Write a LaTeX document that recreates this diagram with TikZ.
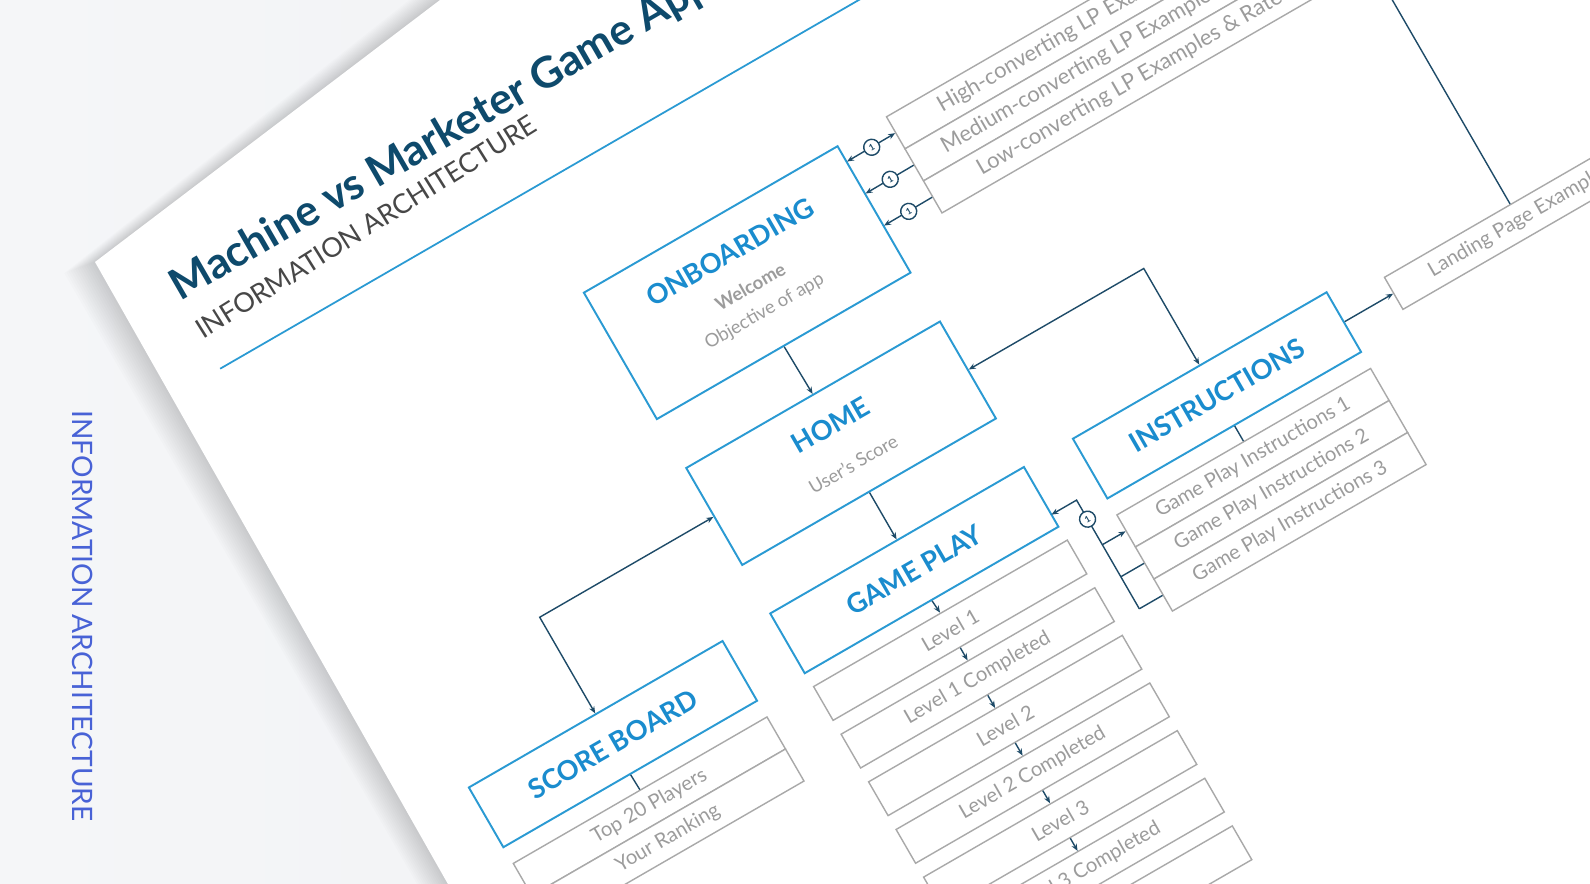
\documentclass[tikz,border=0pt]{standalone}
\usepackage{fontspec}
\setmainfont{Lato}
\usetikzlibrary{arrows.meta}
\definecolor{bgl}{HTML}{F5F6F8}
\definecolor{bgr}{HTML}{ECEEF1}
\definecolor{boxblue}{HTML}{2A9AD3}
\definecolor{headblue}{HTML}{1A8CCE}
\definecolor{titleblue}{HTML}{0E4A6C}
\definecolor{navy}{HTML}{1E4B68}
\definecolor{itemgray}{HTML}{A9A9A9}
\definecolor{textgray}{HTML}{9C9C9C}
\definecolor{sideblue}{HTML}{4862D6}
\tikzset{
  bluebox/.style={draw=boxblue, line width=1.1pt, fill=white, inner sep=0pt, minimum width=5.86cm},
  graybox/.style={draw=itemgray, line width=0.8pt, fill=white, inner sep=0pt, minimum width=5.86cm, minimum height=0.74cm, text=textgray, font=\fontsize{11.5}{12}\selectfont},
  levelbox/.style={graybox, minimum height=0.78cm},
  head/.style={text=headblue, font=\bfseries\fontsize{15.5}{17}\selectfont, inner sep=0pt},
  subt/.style={text=textgray, font=\fontsize{10.5}{12}\selectfont, inner sep=0pt},
  conn/.style={draw=navy, line width=0.8pt},
  tip/.style={-{Stealth[length=4pt,width=3.2pt]}},
  badge/.style={circle, draw=navy, fill=white, line width=0.8pt, minimum size=0.32cm, inner sep=0pt, text=navy, font=\bfseries\fontsize{5}{5}\selectfont},
}
\begin{document}
\begin{tikzpicture}[x=0.02cm,y=-0.02cm]
\useasboundingbox (0,0) rectangle (1590,884);
\begin{scope}
\clip (0,0) rectangle (1590,884);
\shade[left color=bgl, right color=bgr] (0,0) rectangle (1590,884);
% sheet shadow
\foreach \i in {1,...,14}{
  \fill[black, opacity=0.012] ({95-2.2*\i},{262+0.8*\i}) -- ({440-2.2*\i},0) -- (1600,0) -- (1600,900) -- ({457-2.2*\i},900) -- cycle;
}
\fill[white] (95,262) -- (440,0) -- (1600,0) -- (1600,900) -- (457,900) -- cycle;
% side label
\node[rotate=-90, text=sideblue, font=\fontsize{16}{18}\selectfont, inner sep=0pt] (side) at (83,616) {INFORMATION ARCHITECTURE};
% title
\node[rotate=30, anchor=base west, text=titleblue, font=\bfseries\fontsize{24.5}{28}\selectfont, inner sep=0pt] (title) at (180,302) {Machine vs Marketer Game Application};
\node[rotate=32, anchor=base west, text=black!72, font=\fontsize{15.4}{17}\selectfont, inner sep=0pt] (subtitle) at (203,340) {INFORMATION ARCHITECTURE};

\begin{scope}[shift={(95,262)}, rotate=30, transform shape]
\coordinate (l0) at (55,155);
\coordinate (l1) at (950,155);
\draw[boxblue, line width=1pt] (l0) -- (l1);

% main boxes
\node[bluebox, minimum height=2.92cm] (onb) at (554.5,344) {};
\node[head] at (555,309) {ONBOARDING};
\node[subt, font=\bfseries\fontsize{10.5}{12}\selectfont] at (555,349) {Welcome};
\node[subt] at (555,378) {Objective of app};

\node[bluebox, minimum height=2.24cm] (home) at (555.5,530) {};
\node[head] at (555.5,509) {HOME};
\node[subt] at (555.5,554) {User's Score};

\node[bluebox, minimum height=1.38cm] (gp) at (555.5,676.5) {};
\node[head] at (555.5,676.5) {GAME PLAY};

\node[bluebox, minimum height=1.38cm] (sb) at (207.5,676.5) {};
\node[head] at (207.5,676.5) {SCORE BOARD};

\node[bluebox, minimum height=1.38cm] (ins) at (905,676.5) {};
\node[head] at (905,676.5) {INSTRUCTIONS};

% score board items
\node[graybox] (sb1) at (208,748.5) {Top 20 Players};
\node[graybox] (sb2) at (208,785.5) {Your Ranking};

% instruction items
\node[graybox] (in1) at (905,748.5) {Game Play Instructions 1};
\node[graybox] (in2) at (905,785.5) {Game Play Instructions 2};
\node[graybox] (in3) at (905,822.5) {Game Play Instructions 3};

% levels
\node[levelbox] (lv1) at (556.5,746.5) {Level 1};
\node[levelbox] (lv2) at (556.5,801.5) {Level 1 Completed};
\node[levelbox] (lv3) at (556.5,856.5) {Level 2};
\node[levelbox] (lv4) at (556.5,911.5) {Level 2 Completed};
\node[levelbox] (lv5) at (556.5,966.5) {Level 3};
\node[levelbox] (lv6) at (556.5,1021.5) {Level 3 Completed};
\node[levelbox] (lv7) at (556.5,1076.5) {Final Level};

% landing page boxes
\node[graybox, minimum width=10.4cm, font=\fontsize{12.5}{13}\selectfont] (lp1) at (1018,288.5) {High-converting LP Examples \& Rate Range};
\node[graybox, minimum width=10.4cm, font=\fontsize{12.5}{13}\selectfont] (lp2) at (1018,325.5) {Medium-converting LP Examples \& Rate Range};
\node[graybox, minimum width=10.4cm, font=\fontsize{12.5}{13}\selectfont] (lp3) at (1018,362.5) {Low-converting LP Examples \& Rate Range};
\node[graybox, minimum width=5.82cm] (lp) at (1254.5,676.5) {Landing Page Examples};

% connectors
\draw[conn, tip] (onb.south) -- (home.north);
\draw[conn, tip] (home.south) -- (gp.north);
\draw[conn, tip] (gp.south) -- (lv1.north);
\draw[conn, tip] (lv1.south) -- (lv2.north);
\draw[conn, tip] (lv2.south) -- (lv3.north);
\draw[conn, tip] (lv3.south) -- (lv4.north);
\draw[conn, tip] (lv4.south) -- (lv5.north);
\draw[conn, tip] (lv5.south) -- (lv6.north);
\draw[conn, tip] (lv6.south) -- (lv7.north);

\coordinate (e1) at (207.5,530);
\draw[conn, {Stealth[length=4pt,width=3.2pt]}-{Stealth[length=4pt,width=3.2pt]}] (sb.north) -- (e1) -- (home.west);
\coordinate (e2) at (905,530);
\draw[conn, {Stealth[length=4pt,width=3.2pt]}-{Stealth[length=4pt,width=3.2pt]}] (ins.north) -- (e2) -- (home.east);

\draw[conn] (sb.south) -- (sb1.north);
\draw[conn] (ins.south) -- (in1.north);

\draw[conn, tip] (ins.east) -- (lp.west);
\coordinate (e3) at (1254.5,-300);
\draw[conn] (lp.north) -- (e3);

% onboarding <-> LP rows
\coordinate (o1) at (701.5,289);
\coordinate (o2) at (701.5,326);
\coordinate (o3) at (701.5,363);
\draw[conn, {Stealth[length=4pt,width=3.2pt]}-{Stealth[length=4pt,width=3.2pt]}] (o1) -- (lp1.west);
\draw[conn, tip] (lp2.west) -- (o2);
\draw[conn, tip] (lp3.west) -- (o3);
\node[badge] (b1) at (730,289) {1};
\node[badge] (b2) at (730,326) {1};
\node[badge] (b3) at (730,363) {1};

% game play <-> instructions rows
\coordinate (g0) at (702,697);
\coordinate (g1) at (731,697);
\coordinate (g2) at (731,748.5);
\coordinate (g3) at (731,785.5);
\coordinate (g4) at (731,822.5);
\draw[conn, tip] (g4) -- (g1) -- (g0);
\draw[conn, tip] (g2) -- (in1.west);
\draw[conn] (g3) -- (in2.west);
\draw[conn] (g4) -- (in3.west);
\node[badge] (b4) at (731,719) {1};
\end{scope}
\end{scope}
\end{tikzpicture}
\end{document}
